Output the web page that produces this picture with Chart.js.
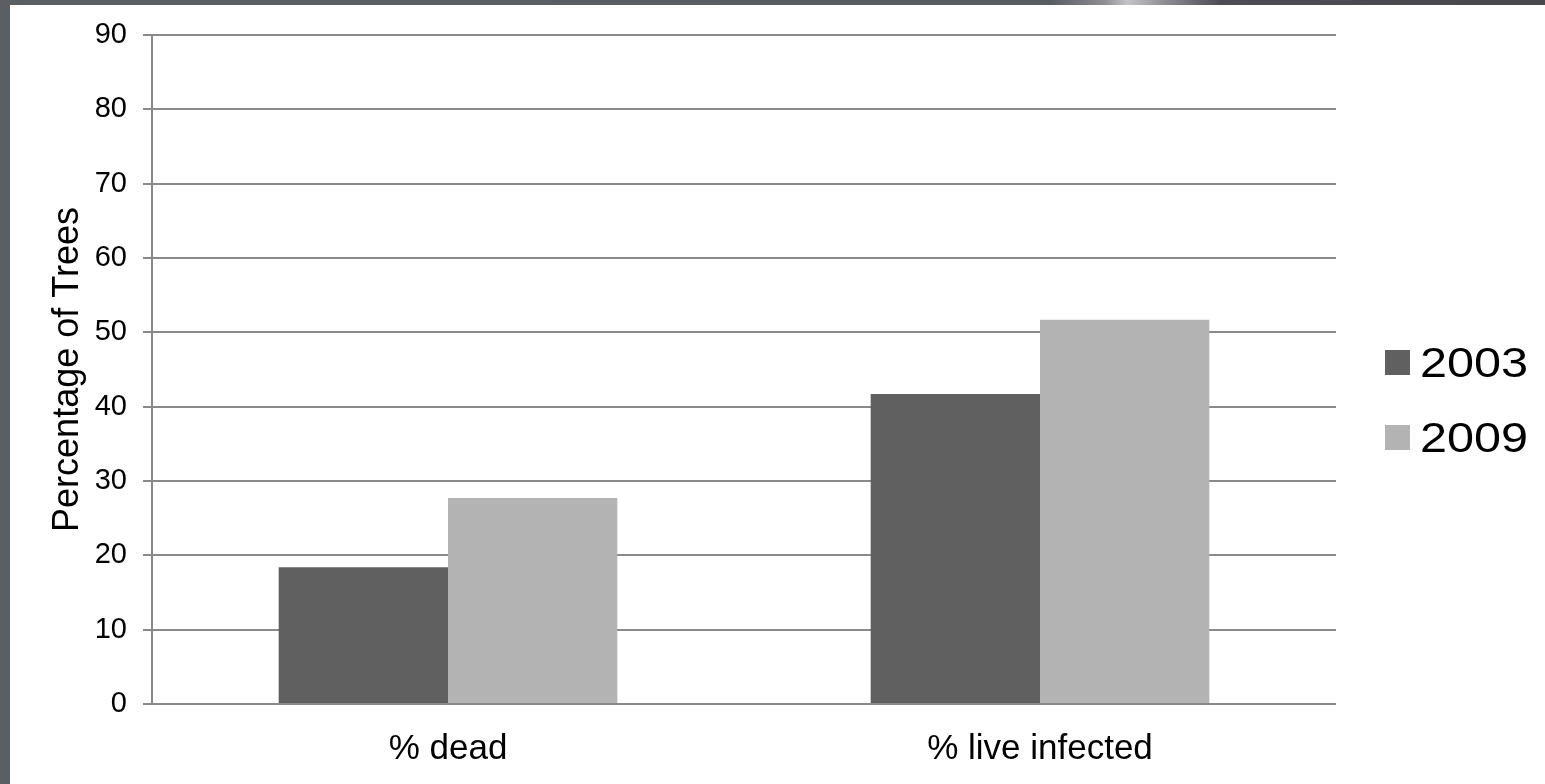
<!DOCTYPE html>
<html>
<head>
<meta charset="utf-8">
<script src="https://cdn.jsdelivr.net/npm/chart.js@4"></script>
<style>
  html, body { margin: 0; padding: 0; background: #ffffff; }
  #wrap { position: relative; width: 1545px; height: 784px; overflow: hidden; }
  #chart { position: absolute; left: 0; top: 0; }
  .frame-left { position: absolute; left: 0; top: 0; width: 10px; height: 784px; background: #5b5f63; }
  .frame-top {
    position: absolute; left: 0; top: 0; width: 1545px; height: 5px;
    background: linear-gradient(to right, #5b5f63 0%, #595c61 68%, #8e8e93 71.5%, #c4c4c8 73%, #8a8a90 75.5%, #4d4c52 79%, #48474c 100%);
  }
</style>
</head>
<body>
<div id="wrap">
  <canvas id="chart" width="1545" height="784"></canvas>
  <div class="frame-top"></div>
  <div class="frame-left"></div>
</div>
<script>
// Survey results: share of trees dead / live-infected, by survey year
const categories = ['% dead', '% live infected'];
const seriesLabels = ['2003', '2009'];
const values2003 = [18.4, 41.7];
const values2009 = [27.7, 51.7];
const yTicks = [0, 10, 20, 30, 40, 50, 60, 70, 80, 90];

const colors = ['#606060', '#b3b3b3'];
const axisGray = '#898989';
const fontFamily = '"Liberation Sans", Arial, sans-serif';

// Legend drawn at the right of the plot: square swatch + wide label
const sideLegend = {
  id: 'sideLegend',
  afterDraw(chart) {
    const ctx = chart.ctx;
    const x0 = 1385, size = 25, rowGap = 75, firstCenter = 362.5;
    ctx.save();
    chart.data.datasets.forEach((ds, i) => {
      const cy = firstCenter + i * rowGap;
      ctx.fillStyle = ds.backgroundColor;
      ctx.fillRect(x0, cy - size / 2, size, size);
      ctx.save();
      ctx.translate(1420, cy + 14.5);
      ctx.scale(1.13, 1);
      ctx.fillStyle = '#000';
      ctx.font = '43px ' + fontFamily;
      ctx.textBaseline = 'alphabetic';
      ctx.textAlign = 'left';
      ctx.fillText(ds.label, 0, 0);
      ctx.restore();
    });
    ctx.restore();
  }
};

new Chart(document.getElementById('chart'), {
  type: 'bar',
  data: {
    labels: categories,
    datasets: [
      { label: seriesLabels[0], data: values2003, backgroundColor: colors[0], borderWidth: 0 },
      { label: seriesLabels[1], data: values2009, backgroundColor: colors[1], borderWidth: 0 }
    ]
  },
  options: {
    responsive: false,
    devicePixelRatio: 1,
    animation: false,
    events: [],
    layout: { padding: { left: 0, top: 35, right: 209, bottom: 0 } },
    datasets: { bar: { categoryPercentage: 0.572, barPercentage: 1.0 } },
    plugins: {
      legend: { display: false },
      tooltip: { enabled: false }
    },
    scales: {
      x: {
        grid: { display: false, drawTicks: false },
        border: { display: false },
        ticks: { color: '#000', font: { family: fontFamily, size: 35 }, padding: 24, maxRotation: 0 },
        afterFit(scale) { scale.height = 80; }
      },
      y: {
        min: 0,
        max: 90,
        afterBuildTicks(scale) { scale.ticks = yTicks.map(v => ({ value: v })); },
        grid: { color: axisGray, lineWidth: 2, tickLength: 9, drawTicks: true },
        border: { display: true, color: axisGray, width: 2 },
        ticks: { color: '#000', font: { family: fontFamily, size: 29 }, padding: 16 },
        title: {
          display: true,
          text: 'Percentage of Trees',
          color: '#000',
          font: { family: fontFamily, size: 36 },
          padding: { top: 46, bottom: 0 }
        },
        afterFit(scale) { scale.width = 152; }
      }
    }
  },
  plugins: [sideLegend]
});
</script>
</body>
</html>
